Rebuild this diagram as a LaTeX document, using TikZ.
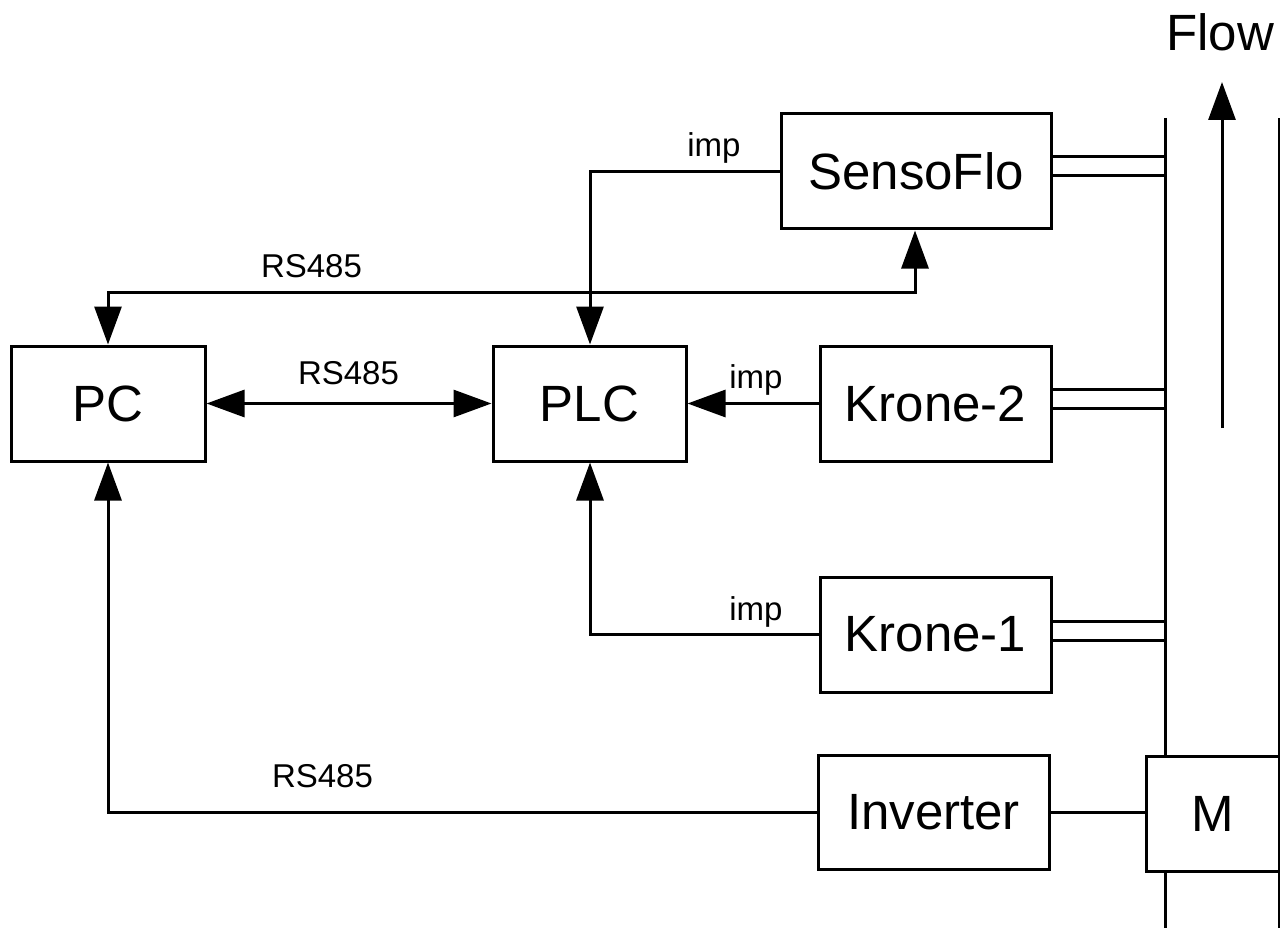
\documentclass[tikz,border=0pt]{standalone}
\usepackage{fontspec}
\setmainfont{Liberation Sans}
\usetikzlibrary{arrows.meta}
\begin{document}
\begin{tikzpicture}[x=1pt,y=-1pt,line width=3pt,
  box/.style={draw,rectangle,inner sep=0pt,minimum height=115pt,font=\fontsize{51}{60}\selectfont},
  lbl/.style={font=\fontsize{33}{40}\selectfont,inner sep=0pt,anchor=base},
  tip/.tip={Triangle[length=38pt,width=27pt]},
  arr/.style={-tip},
  darr/.style={tip-tip}]
\useasboundingbox[fill=white] (0,0) rectangle (1280,928);
% pipe
\coordinate (pl1) at (1165,118);
\coordinate (pl2) at (1165,928);
\coordinate (pr1) at (1279,118);
\coordinate (pr2) at (1279,928);
\draw (pl1) -- (pl2);
\draw (pr1) -- (pr2);
% boxes
\node[box,minimum width=194pt] (PC) at (108,403.5) {PC};
\node[box,minimum width=193pt] (PLC) at (589.5,403.5) {PLC};
\node[box,minimum width=270pt] (SF) at (916,171.5) {SensoFlo};
\node[box,minimum width=231pt] (K2) at (935.5,403.5) {Krone-2};
\node[box,minimum width=231pt] (K1) at (935.5,634.5) {Krone-1};
\node[box,minimum width=231pt,minimum height=114pt] (INV) at (933.5,812.5) {Inverter};
\node[box,fill=white,minimum width=133pt] (M) at (1212.5,813.5) {M};
% flow arrow
\coordinate (f1) at (1222,428);
\coordinate (f2) at (1222,82);
\draw[arr] (f1) -- (f2);
\node[font=\fontsize{51}{60}\selectfont,inner sep=0pt] (flow) at (1220,32) {Flow};
% sensor connections to pipe
\draw (SF.east |- 0,157) -- (pl1 |- 0,157);
\draw (SF.east |- 0,176) -- (pl1 |- 0,176);
\draw (K2.east |- 0,389) -- (pl1 |- 0,389);
\draw (K2.east |- 0,408) -- (pl1 |- 0,408);
\draw (K1.east |- 0,621) -- (pl1 |- 0,621);
\draw (K1.east |- 0,640) -- (pl1 |- 0,640);
% signal connections
\draw[arr] (SF.west |- 0,172) -- (590,172) -- (PLC.north -| 590,0);
\node[lbl] (imp1) at (714,157) {imp};
\draw[darr] (PC.north) -- (108,292) -- (915,292) -- (SF.south -| 915,0);
\node[lbl] (rs1) at (311.5,277) {RS485};
\draw[darr] (PC.east) -- (PLC.west);
\node[lbl] (rs2) at (348.5,384) {RS485};
\draw[arr] (K2.west) -- (PLC.east);
\node[lbl] (imp2) at (756,388) {imp};
\draw[arr] (K1.west) -- (590,634.5) -- (PLC.south -| 590,0);
\node[lbl] (imp3) at (756,620) {imp};
\draw[arr] (INV.west) -- (108,812.5) -- (PC.south);
\node[lbl] (rs3) at (322.5,787) {RS485};
\draw (INV.east) -- (M.west |- INV.east);
\end{tikzpicture}
\end{document}
